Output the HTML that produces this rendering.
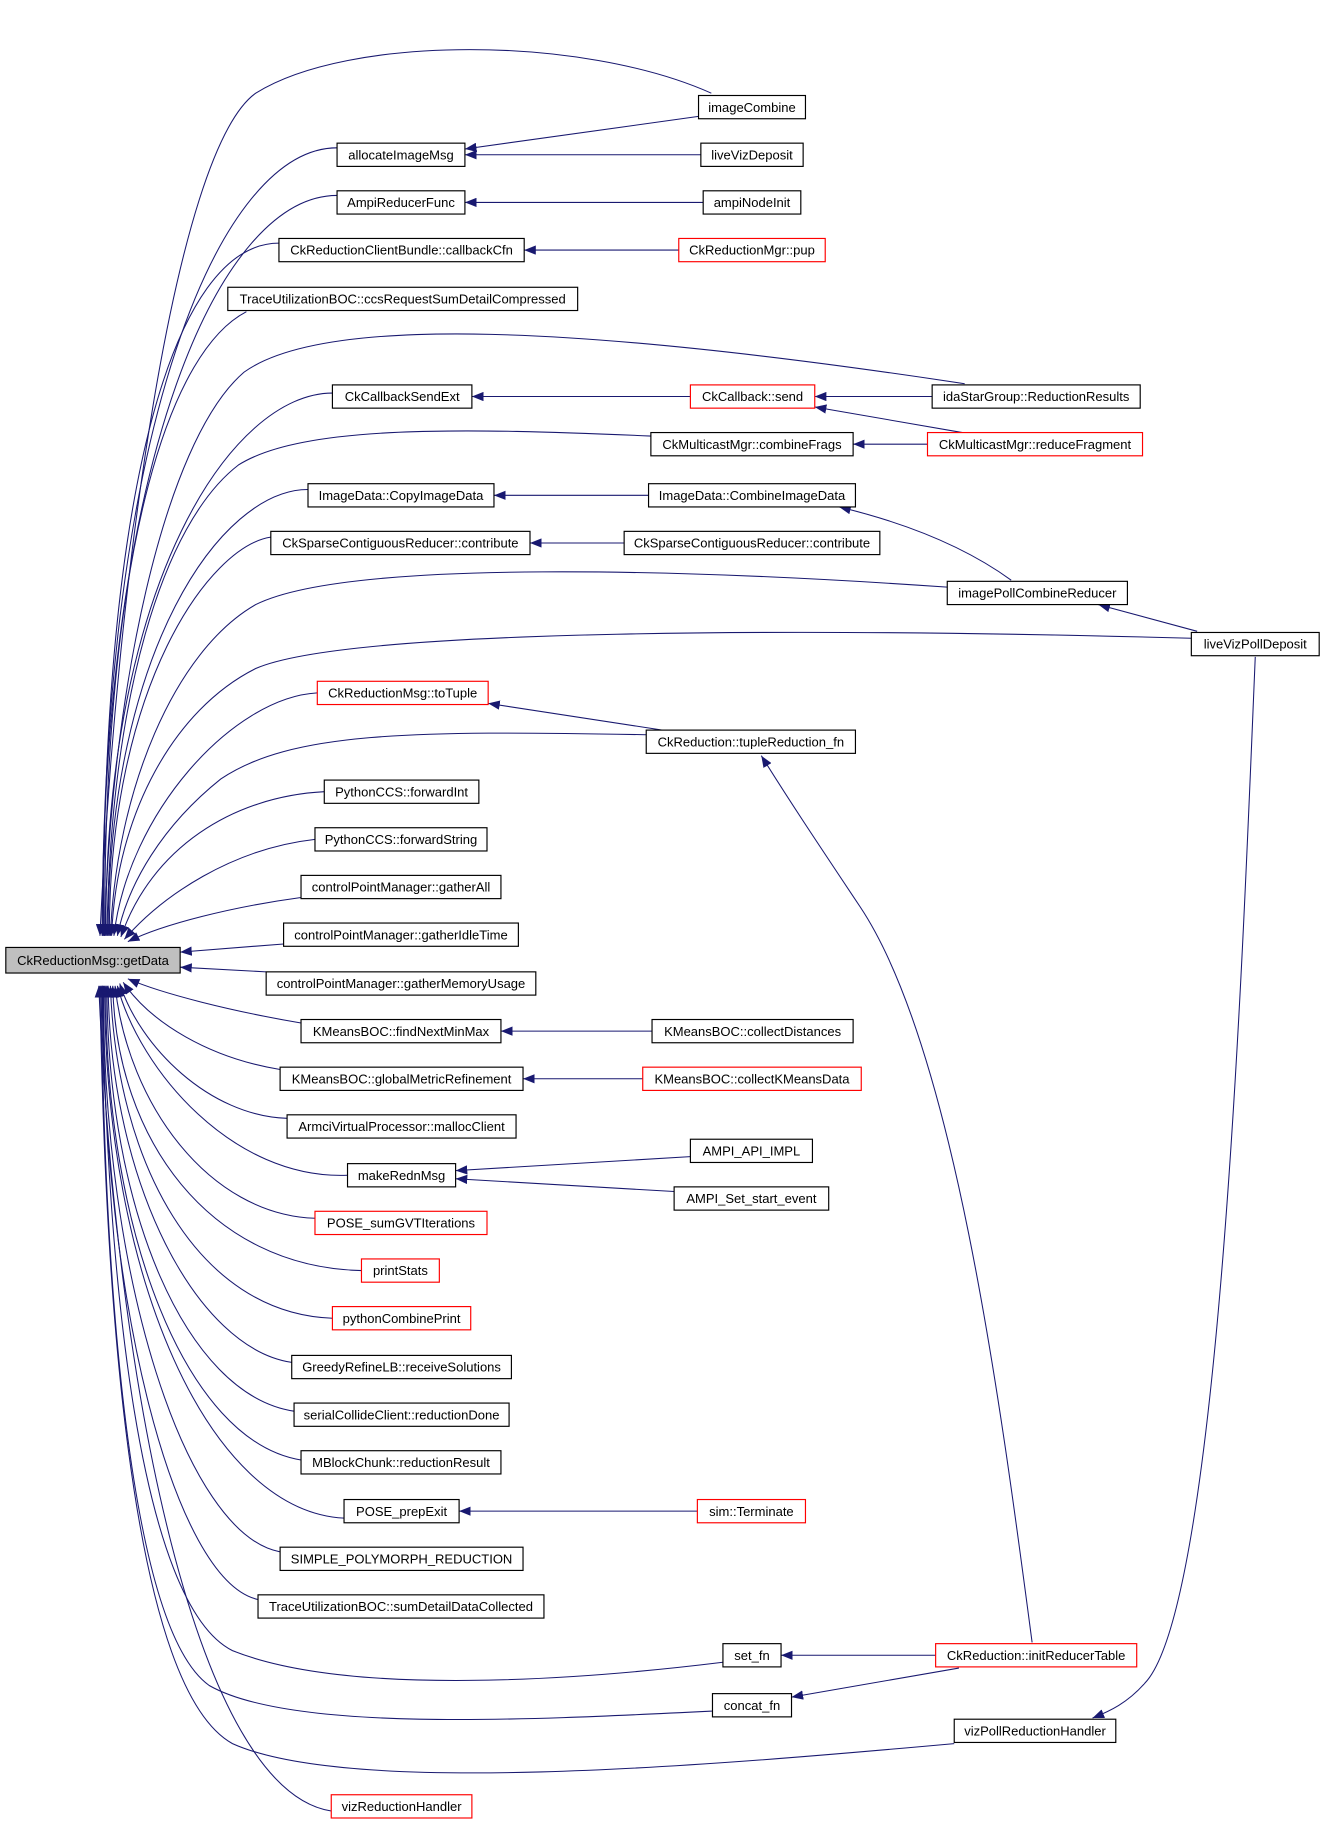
<!DOCTYPE html>
<html><head><meta charset="utf-8"><style>
html,body{margin:0;padding:0;background:#fff;}
svg{display:block}
text{font-family:"Liberation Sans",sans-serif;font-size:11.2px;fill:#000;text-anchor:middle;}
.b{fill:#fff;stroke:#000;stroke-width:1}
.r{fill:#fff;stroke:#ff0000;stroke-width:1}
.e{fill:none;stroke:#191970;stroke-width:0.9;marker-end:url(#a)}
</style></head><body>
<svg width="1325" height="1824" viewBox="0 0 1140 1569" xmlns="http://www.w3.org/2000/svg">
<defs><marker id="a" markerUnits="userSpaceOnUse" markerWidth="11" markerHeight="8" refX="10" refY="4" orient="auto"><path d="M0,0 L10,4 L0,8 z" fill="#191970"/></marker></defs>
<g>
<path class="e" d="M612,80 C500,30 300,30 220,80 C150,130 100,500 86,805"/>
<path class="e" d="M290,127 C190,127 88,364 88,805"/>
<path class="e" d="M290,168 C190,168 88,391 88,805"/>
<path class="e" d="M240,209 C150,209 88,418 89,805"/>
<path class="e" d="M212,268 C150,300 90,454 90,805"/>
<path class="e" d="M830,330 C500,280 280,270 210,320 C140,380 95,600 90,805"/>
<path class="e" d="M286,338 C200,338 90,500 91,805"/>
<path class="e" d="M560,375 C400,368 260,365 205,400 C140,450 95,600 92,805"/>
<path class="e" d="M265,421 C190,421 93,560 93,805"/>
<path class="e" d="M233,462 C180,470 94,590 94,805"/>
<path class="e" d="M815,505 C600,490 300,480 220,520 C150,560 100,680 95,805"/>
<path class="e" d="M1025,549 C700,540 300,540 220,575 C150,610 100,700 96,805"/>
<path class="e" d="M273,596 C200,600 110,700 98,805"/>
<path class="e" d="M556,632 C350,628 250,630 190,670 C140,710 110,760 101,805"/>
<path class="e" d="M279,681 C200,685 130,730 104,806"/>
<path class="e" d="M271,722 C200,730 140,770 107,808"/>
<path class="e" d="M259,772 C200,780 140,795 110,810"/>
<path class="e" d="M244,812 L155,819"/>
<path class="e" d="M229,836 L155,832"/>
<path class="e" d="M259,880 C200,870 140,855 110,842"/>
<path class="e" d="M241,920 C180,910 130,880 106,845"/>
<path class="e" d="M247,962 C180,960 120,900 103,846"/>
<path class="e" d="M299,1011 C200,1015 120,920 101,848"/>
<path class="e" d="M271,1048 C180,1045 110,950 99,848"/>
<path class="e" d="M311,1093 C180,1090 100,980 97,848"/>
<path class="e" d="M286,1134 C170,1130 100,1000 95,848"/>
<path class="e" d="M251,1172 C170,1160 95,1020 93,848"/>
<path class="e" d="M253,1214 C160,1200 92,1040 92,848"/>
<path class="e" d="M259,1256 C160,1240 90,1060 91,848"/>
<path class="e" d="M296,1306 C180,1300 90,1100 90,848"/>
<path class="e" d="M241,1335 C160,1320 88,1100 89,848"/>
<path class="e" d="M222,1376 C150,1360 88,1120 88,848"/>
<path class="e" d="M622,1430 C500,1445 300,1460 200,1420 C120,1380 92,1100 88,848"/>
<path class="e" d="M613,1472 C450,1480 250,1490 180,1450 C110,1400 90,1100 87,848"/>
<path class="e" d="M821,1500 C600,1520 300,1545 200,1500 C110,1450 90,1100 86,848"/>
<path class="e" d="M285,1558 C170,1540 100,1200 85,848"/>
<path class="e" d="M601,100 L400,128"/>
<path class="e" d="M603,133 L400,133"/>
<path class="e" d="M605,174 L400,174"/>
<path class="e" d="M584,215 L451,215"/>
<path class="e" d="M594,341 L406,341"/>
<path class="e" d="M802,341 L701,341"/>
<path class="e" d="M828,372 L701,350"/>
<path class="e" d="M798,382 L734,382"/>
<path class="e" d="M558,426 L425,426"/>
<path class="e" d="M537,467 L456,467"/>
<path class="e" d="M870,499 C830,470 780,450 722,436"/>
<path class="e" d="M1030,543 L945,520"/>
<path class="e" d="M1080,565 C1070,800 1050,1380 985,1448 C970,1465 955,1472 940,1478"/>
<path class="e" d="M570,628 L420,605"/>
<path class="e" d="M888,1413 C860,1200 820,900 740,780 C700,720 680,690 655,650"/>
<path class="e" d="M805,1424 L672,1424"/>
<path class="e" d="M825,1435 L681,1460"/>
<path class="e" d="M561,887 L431,887"/>
<path class="e" d="M553,928 L450,928"/>
<path class="e" d="M594,995 L392,1007"/>
<path class="e" d="M580,1025 L392,1014"/>
<path class="e" d="M600,1300 L395,1300"/>
</g>
<rect x="5" y="815" width="150" height="22" fill="#bfbfbf" stroke="#000"/><text x="80" y="830">CkReductionMsg::getData</text>
<rect class="b" x="290" y="123" width="110" height="20"/><text x="345" y="137">allocateImageMsg</text>
<rect class="b" x="290" y="164" width="110" height="20"/><text x="345" y="178">AmpiReducerFunc</text>
<rect class="b" x="240" y="205" width="211" height="20"/><text x="345.5" y="219">CkReductionClientBundle::callbackCfn</text>
<rect class="b" x="196" y="247" width="301" height="20"/><text x="346.5" y="261">TraceUtilizationBOC::ccsRequestSumDetailCompressed</text>
<rect class="b" x="286" y="331" width="120" height="20"/><text x="346" y="345">CkCallbackSendExt</text>
<rect class="b" x="265" y="416" width="160" height="20"/><text x="345" y="430">ImageData::CopyImageData</text>
<rect class="b" x="233" y="457" width="223" height="20"/><text x="344.5" y="471">CkSparseContiguousReducer::contribute</text>
<rect class="r" x="273" y="586" width="147" height="20"/><text x="346.5" y="600">CkReductionMsg::toTuple</text>
<rect class="b" x="279" y="671" width="133" height="20"/><text x="345.5" y="685">PythonCCS::forwardInt</text>
<rect class="b" x="271" y="712" width="148" height="20"/><text x="345" y="726">PythonCCS::forwardString</text>
<rect class="b" x="259" y="753" width="172" height="20"/><text x="345" y="767">controlPointManager::gatherAll</text>
<rect class="b" x="244" y="794" width="202" height="20"/><text x="345" y="808">controlPointManager::gatherIdleTime</text>
<rect class="b" x="229" y="836" width="232" height="20"/><text x="345" y="850">controlPointManager::gatherMemoryUsage</text>
<rect class="b" x="259" y="877" width="172" height="20"/><text x="345" y="891">KMeansBOC::findNextMinMax</text>
<rect class="b" x="241" y="918" width="209" height="20"/><text x="345.5" y="932">KMeansBOC::globalMetricRefinement</text>
<rect class="b" x="247" y="959" width="197" height="20"/><text x="345.5" y="973">ArmciVirtualProcessor::mallocClient</text>
<rect class="b" x="299" y="1001" width="93" height="20"/><text x="345.5" y="1015">makeRednMsg</text>
<rect class="r" x="271" y="1042" width="148" height="20"/><text x="345" y="1056">POSE_sumGVTIterations</text>
<rect class="r" x="311" y="1083" width="67" height="20"/><text x="344.5" y="1097">printStats</text>
<rect class="r" x="286" y="1124" width="119" height="20"/><text x="345.5" y="1138">pythonCombinePrint</text>
<rect class="b" x="251" y="1166" width="189" height="20"/><text x="345.5" y="1180">GreedyRefineLB::receiveSolutions</text>
<rect class="b" x="253" y="1207" width="185" height="20"/><text x="345.5" y="1221">serialCollideClient::reductionDone</text>
<rect class="b" x="259" y="1248" width="172" height="20"/><text x="345" y="1262">MBlockChunk::reductionResult</text>
<rect class="b" x="296" y="1290" width="99" height="20"/><text x="345.5" y="1304">POSE_prepExit</text>
<rect class="b" x="241" y="1331" width="209" height="20"/><text x="345.5" y="1345">SIMPLE_POLYMORPH_REDUCTION</text>
<rect class="b" x="222" y="1372" width="246" height="20"/><text x="345" y="1386">TraceUtilizationBOC::sumDetailDataCollected</text>
<rect class="r" x="285" y="1544" width="121" height="20"/><text x="345.5" y="1558">vizReductionHandler</text>
<rect class="b" x="601" y="82" width="92" height="20"/><text x="647" y="96">imageCombine</text>
<rect class="b" x="603" y="123" width="88" height="20"/><text x="647" y="137">liveVizDeposit</text>
<rect class="b" x="605" y="164" width="84" height="20"/><text x="647" y="178">ampiNodeInit</text>
<rect class="r" x="584" y="205" width="126" height="20"/><text x="647" y="219">CkReductionMgr::pup</text>
<rect class="r" x="594" y="331" width="107" height="20"/><text x="647.5" y="345">CkCallback::send</text>
<rect class="b" x="560" y="372" width="174" height="20"/><text x="647" y="386">CkMulticastMgr::combineFrags</text>
<rect class="b" x="558" y="416" width="178" height="20"/><text x="647" y="430">ImageData::CombineImageData</text>
<rect class="b" x="537" y="457" width="220" height="20"/><text x="647" y="471">CkSparseContiguousReducer::contribute</text>
<rect class="b" x="556" y="628" width="180" height="20"/><text x="646" y="642">CkReduction::tupleReduction_fn</text>
<rect class="b" x="561" y="877" width="173" height="20"/><text x="647.5" y="891">KMeansBOC::collectDistances</text>
<rect class="r" x="553" y="918" width="188" height="20"/><text x="647" y="932">KMeansBOC::collectKMeansData</text>
<rect class="b" x="594" y="980" width="105" height="20"/><text x="646.5" y="994">AMPI_API_IMPL</text>
<rect class="b" x="580" y="1021" width="133" height="20"/><text x="646.5" y="1035">AMPI_Set_start_event</text>
<rect class="r" x="600" y="1290" width="93" height="20"/><text x="646.5" y="1304">sim::Terminate</text>
<rect class="b" x="622" y="1414" width="50" height="20"/><text x="647" y="1428">set_fn</text>
<rect class="b" x="613" y="1457" width="68" height="20"/><text x="647" y="1471">concat_fn</text>
<rect class="b" x="802" y="331" width="179" height="20"/><text x="891.5" y="345">idaStarGroup::ReductionResults</text>
<rect class="r" x="798" y="372" width="185" height="20"/><text x="890.5" y="386">CkMulticastMgr::reduceFragment</text>
<rect class="b" x="815" y="500" width="155" height="20"/><text x="892.5" y="514">imagePollCombineReducer</text>
<rect class="r" x="805" y="1414" width="173" height="20"/><text x="891.5" y="1428">CkReduction::initReducerTable</text>
<rect class="b" x="821" y="1479" width="139" height="20"/><text x="890.5" y="1493">vizPollReductionHandler</text>
<rect class="b" x="1025" y="544" width="110" height="20"/><text x="1080" y="558">liveVizPollDeposit</text>
</svg>
</body></html>
